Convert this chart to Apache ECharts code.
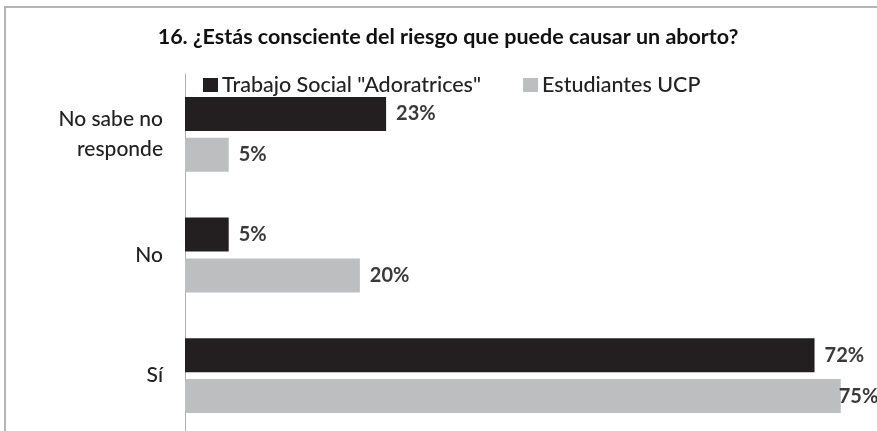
<!DOCTYPE html>
<html>
<head>
<meta charset="utf-8">
<script src="https://cdn.jsdelivr.net/npm/echarts@6/dist/echarts.min.js"></script>
<style>
  html, body { margin: 0; padding: 0; background: #fff; }
  #chart { width: 877px; height: 431px; }
</style>
</head>
<body>
<div id="chart"></div>
<script>
// Survey question 16: awareness of abortion risks, two groups
const titleText = '16. ¿Estás consciente del riesgo que puede causar un aborto?';
const categories = ['No sabe no\nresponde', 'No', 'Sí'];
const seriesNames = ['Trabajo Social "Adoratrices"', 'Estudiantes UCP'];
const trabajoSocial = [23, 5, 72];
const estudiantesUCP = [5, 20, 75];

const FONT = 'Lato, "Open Sans", sans-serif';
const chart = echarts.init(document.getElementById('chart'));

function barLabel() {
  return {
    show: true,
    position: 'right',
    distance: 10,
    formatter: p => p.value + '%',
    color: '#3a3a3a',
    fontFamily: FONT,
    fontWeight: 'bold',
    fontSize: 20
  };
}

chart.setOption({
  animation: false,
  backgroundColor: '#ffffff',
  title: {
    text: titleText,
    left: 448,
    textAlign: 'center',
    top: 26,
    padding: 0,
    textStyle: { fontFamily: FONT, fontWeight: 'bold', fontSize: 21.5, color: '#111' }
  },
  legend: {
    left: 203,
    top: 74,
    padding: 0,
    itemWidth: 15,
    itemHeight: 14,
    itemGap: 42,
    icon: 'rect',
    textStyle: { fontFamily: FONT, fontSize: 21.5, fontWeight: 500, color: '#222', padding: [0, 0, 0, -1] },
    data: seriesNames
  },
  grid: { left: 185, top: 74, height: 362, width: 682, outerBoundsMode: 'none' },
  xAxis: {
    type: 'value',
    min: 0,
    max: 78,
    show: false
  },
  yAxis: {
    type: 'category',
    inverse: true,
    data: categories,
    axisLine: { show: true, lineStyle: { color: '#b0b0b0', width: 1 } },
    axisTick: { show: false },
    axisLabel: {
      margin: 22,
      align: 'right',
      fontFamily: FONT,
      fontSize: 21,
      fontWeight: 500,
      lineHeight: 30,
      color: '#222'
    }
  },
  series: [
    {
      name: seriesNames[0],
      type: 'bar',
      data: trabajoSocial,
      barWidth: 34,
      barGap: '20%',
      itemStyle: { color: '#231f20' },
      label: barLabel()
    },
    {
      name: seriesNames[1],
      type: 'bar',
      data: estudiantesUCP.map((v, i) => i === 2 ? { value: v, label: { distance: -2 } } : v),
      barWidth: 34,
      itemStyle: { color: '#bcbec0' },
      label: barLabel()
    }
  ],
  graphic: [
    { type: 'line', shape: { x1: 4, y1: 7, x2: 877, y2: 7 }, style: { stroke: '#b4b4b4', lineWidth: 2 } },
    { type: 'line', shape: { x1: 5, y1: 6, x2: 5, y2: 431 }, style: { stroke: '#b4b4b4', lineWidth: 2 } }
  ]
});
</script>
</body>
</html>
